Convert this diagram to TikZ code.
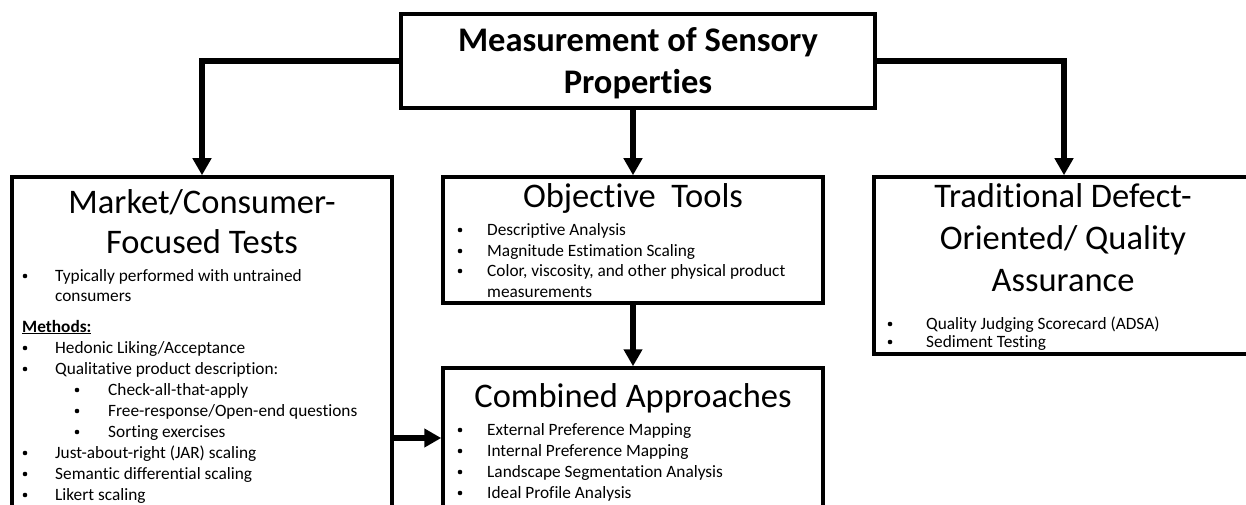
\documentclass[tikz,border=0pt]{standalone}
\usepackage{fontspec}
\setmainfont{Carlito}[Ligatures=NoCommon]
\usetikzlibrary{arrows.meta}
% one bulleted line: name, bullet centre x, text x, baseline y, text
\newcommand\bpt[5]{%
  \node[dot] (#1d) at ({#2},{#4-5}) {};
  \node[txt] (#1) at (#3,#4) {#5};}
\begin{document}
\begin{tikzpicture}[x=1pt,y=-1pt,
  box/.style={draw=black, line width=3.5pt, fill=white, rectangle, inner sep=0pt},
  conn/.style={line width=6pt, -{Triangle[length=17pt,width=18pt]}},
  ttl/.style={anchor=base, inner sep=0pt, font=\fontsize{34.5}{41}\selectfont},
  hd/.style={anchor=base, inner sep=0pt, font=\fontsize{34.5}{41}\selectfont\bfseries},
  txt/.style={anchor=base west, inner sep=0pt, font=\fontsize{17.3}{21}\selectfont},
  dot/.style={circle, fill=black, inner sep=0pt, minimum size=4.6pt},
]
\useasboundingbox (0,0) rectangle (1246,505);
\clip (0,0) rectangle (1246,505);
\fill[white] (0,0) rectangle (1246,505);

% boxes
\node[box, minimum width=474pt, minimum height=94pt] (top) at (638,61) {};
\node[box, minimum width=380pt, minimum height=343pt] (market) at (202,348.5) {};
\node[box, minimum width=380pt, minimum height=126pt] (obj) at (633,240) {};
\node[box, minimum width=380pt, minimum height=140pt] (comb) at (633,438) {};
\node[box, minimum width=380pt, minimum height=177pt] (trad) at (1064,265.5) {};

% connectors
\draw[conn] (top.west) -| (market.north);
\draw[conn] (top.east) -| (trad.north);
\draw[conn] (top.south -| obj.north) -- (obj.north);
\draw[conn] (obj.south) -- (comb.north);
\draw[conn] (market.east |- comb.west) -- (comb.west);

% top heading
\node[hd] (h1) at (638,52) {Measurement of Sensory};
\node[hd] (h2) at (638,94) {Properties};

% market / consumer box
\node[ttl] (mt1) at (202,213) {Market/Consumer-};
\node[ttl] (mt2) at (202,253) {Focused Tests};
\bpt{m1}{25}{55}{281}{Typically performed with untrained}
\node[txt] (m1b) at (55,301) {consumers};
\node[txt] (meth) at (22,332) {\underline{\textbf{Methods:}}};
\bpt{m2}{25}{55}{353}{Hedonic Liking/Acceptance}
\bpt{m3}{25}{55}{374}{Qualitative product description:}
\bpt{m4}{77}{108}{395}{Check-all-that-apply}
\bpt{m5}{77}{108}{416}{Free-response/Open-end questions}
\bpt{m6}{77}{108}{437}{Sorting exercises}
\bpt{m7}{25}{55}{458}{Just-about-right (JAR) scaling}
\bpt{m8}{25}{55}{479}{Semantic differential scaling}
\bpt{m9}{25}{55}{500}{Likert scaling}

% objective tools box
\node[ttl] (ot) at (633,207) {Objective~~Tools};
\bpt{o1}{460}{487}{235}{Descriptive Analysis}
\bpt{o2}{460}{487}{256}{Magnitude Estimation Scaling}
\bpt{o3}{460}{487}{276}{Color, viscosity, and other physical product}
\node[txt] (o3b) at (487,297) {measurements};

% combined approaches box
\node[ttl] (ct) at (633,407) {Combined Approaches};
\bpt{c1}{460}{487}{435}{External Preference Mapping}
\bpt{c2}{460}{487}{456}{Internal Preference Mapping}
\bpt{c3}{460}{487}{477}{Landscape Segmentation Analysis}
\bpt{c4}{460}{487}{498}{Ideal Profile Analysis}

% traditional defect-oriented box
\node[ttl] (tt1) at (1063,207) {Traditional Defect-};
\node[ttl] (tt2) at (1063,249) {Oriented/ Quality};
\node[ttl] (tt3) at (1063,291) {Assurance};
\bpt{t1}{890}{926}{329}{Quality Judging Scorecard (ADSA)}
\bpt{t2}{890}{926}{347}{Sediment Testing}
\end{tikzpicture}
\end{document}
